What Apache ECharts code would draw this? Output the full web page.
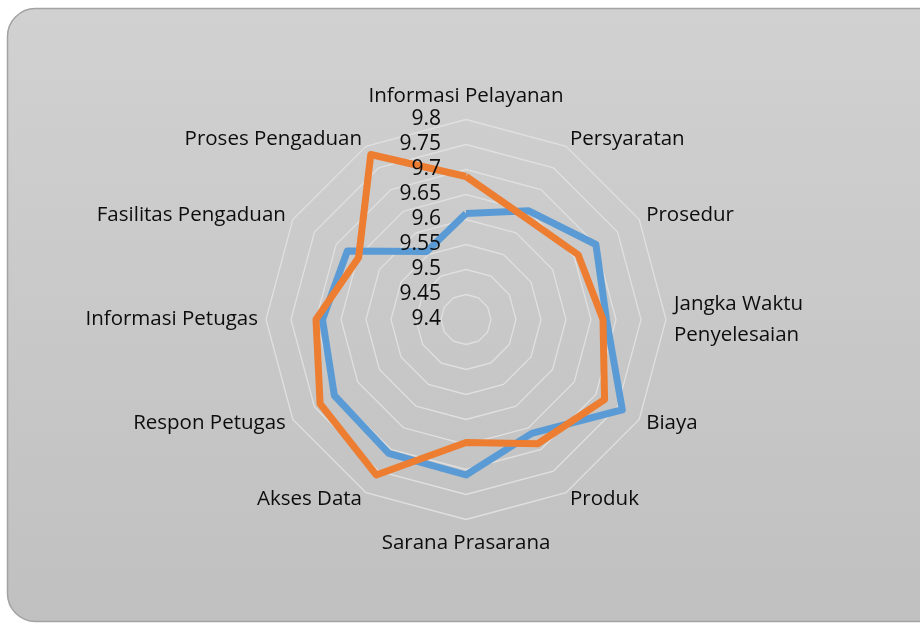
<!DOCTYPE html>
<html>
<head>
<meta charset="utf-8">
<title>Radar</title>
<script src="https://cdn.jsdelivr.net/npm/echarts@6/dist/echarts.min.js"></script>
<style>
  html, body { margin: 0; padding: 0; background: #fff; }
  #main { width: 920px; height: 623px; }
</style>
</head>
<body>
<div id="main"></div>
<script>
// categories in Excel order (clockwise from top)
var categories = ['Informasi Pelayanan', 'Persyaratan', 'Prosedur', 'Jangka Waktu\nPenyelesaian',
    'Biaya', 'Produk', 'Sarana Prasarana', 'Akses Data', 'Respon Petugas',
    'Informasi Petugas', 'Fasilitas Pengaduan', 'Proses Pengaduan'];
var seriesBlue = [9.612, 9.651, 9.700, 9.681, 9.761, 9.663, 9.711, 9.709, 9.704, 9.687, 9.674, 9.557];
var seriesOrange = [9.686, 9.636, 9.659, 9.674, 9.720, 9.687, 9.646, 9.759, 9.737, 9.700, 9.648, 9.781];
var axisMin = 9.4;
var axisMax = 9.8;
var splitCount = 8;

// echarts radar runs counter-clockwise, so keep the first one and flip the rest
function clockwise(arr) {
    return [arr[0]].concat(arr.slice(1).reverse());
}

var myChart = echarts.init(document.getElementById('main'));

function makeIndicators(withLabel) {
    return clockwise(categories).map(function (name, i) {
        return {
            name: name,
            min: axisMin,
            max: axisMax,
            axisLabel: { show: withLabel && i === 0 }
        };
    });
}

var textColor = '#0d0d0d';

var option = {
    animation: false,
    graphic: [{
        type: 'rect',
        z: -10,
        shape: { x: 7.5, y: 8.5, width: 940, height: 613, r: 28 },
        style: {
            fill: new echarts.graphic.LinearGradient(0, 0, 0, 1, [
                { offset: 0, color: '#d1d1d1' },
                { offset: 1, color: '#c0c0c0' }
            ]),
            stroke: '#a3a3a3',
            lineWidth: 1.5
        }
    }],
    radar: [
        // grid + category names, under the lines
        {
            center: [466, 319.5],
            radius: 200,
            startAngle: 90,
            shape: 'polygon',
            splitNumber: splitCount,
            indicator: makeIndicators(false),
            z: 1,
            axisName: {
                color: textColor,
                fontFamily: 'Open Sans',
                fontSize: 20.5,
                lineHeight: 31
            },
            nameGap: 8,
            axisLine: { show: false },
            axisTick: { show: false },
            axisLabel: { show: false },
            splitLine: {
                lineStyle: { color: '#e0e0e0', width: 1.3 }
            },
            splitArea: { show: false }
        },
        // value labels only, drawn above the lines
        {
            center: [466, 319.5],
            radius: 200,
            startAngle: 90,
            shape: 'polygon',
            splitNumber: splitCount,
            indicator: makeIndicators(true),
            z: 5,
            axisName: { show: false },
            axisLine: { show: false },
            axisTick: { show: false },
            axisLabel: {
                show: false,
                color: textColor,
                fontFamily: 'Open Sans',
                fontSize: 21,
                margin: 25,
                formatter: function (v) {
                    return String(parseFloat(Number(v).toFixed(2)));
                }
            },
            splitLine: { show: false },
            splitArea: { show: false }
        }
    ],
    series: [{
        type: 'radar',
        radarIndex: 0,
        z: 3,
        symbol: 'none',
        data: [
            {
                name: 'Series1',
                value: clockwise(seriesBlue),
                lineStyle: { color: '#5b9bd5', width: 7, join: 'round' }
            },
            {
                name: 'Series2',
                value: clockwise(seriesOrange),
                lineStyle: { color: '#ed7d31', width: 7, join: 'round' }
            }
        ]
    }]
};
myChart.setOption(option);
</script>
</body>
</html>
